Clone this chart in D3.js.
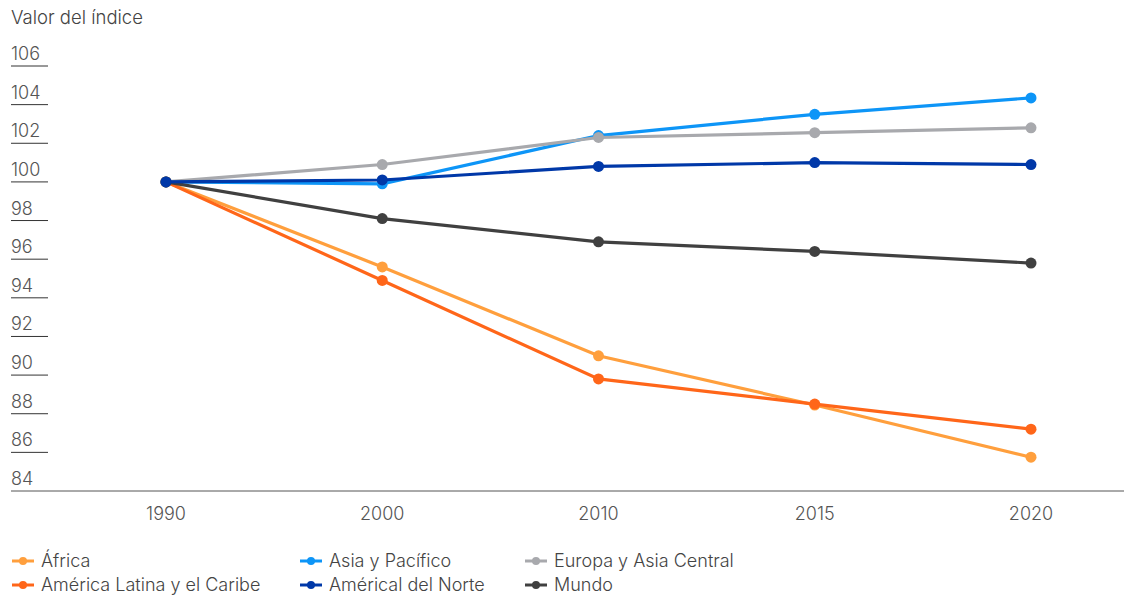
<!DOCTYPE html>
<html>
<head>
<meta charset="utf-8">
<title>Valor del índice</title>
<script src="https://cdn.jsdelivr.net/npm/d3@7"></script>
<style>
  body { margin: 0; background: #fff; }
  text { font-family: Inter, "Noto Sans", sans-serif; font-weight: 300; }
</style>
</head>
<body>
<script>
// data
var years = ["1990", "2000", "2010", "2015", "2020"];
var yTicks = [84, 86, 88, 90, 92, 94, 96, 98, 100, 102, 104, 106];

var africa   = [100, 95.6, 91.0, 88.45, 85.75];
var latam    = [100, 94.9, 89.8, 88.5, 87.2];
var asiaPac  = [100, 99.9, 102.4, 103.5, 104.35];
var europa   = [100, 100.9, 102.3, 102.55, 102.8];
var norte    = [100, 100.1, 100.8, 101.0, 100.9];
var mundo    = [100, 98.1, 96.9, 96.4, 95.8];

var series = [
  {name: "África", values: africa, color: "#ff9f3d"},
  {name: "América Latina y el Caribe", values: latam, color: "#ff6619"},
  {name: "Asia y Pacífico", values: asiaPac, color: "#0d95f7"},
  {name: "Europa y Asia Central", values: europa, color: "#a8a9ad"},
  {name: "Mundo", values: mundo, color: "#404040"},
  {name: "Américal del Norte", values: norte, color: "#0038a8"}
];
var legendOrder = ["África", "Asia y Pacífico", "Europa y Asia Central",
                   "América Latina y el Caribe", "Américal del Norte", "Mundo"];

var W = 1126, H = 595;
var svg = d3.select("body").append("svg").attr("width", W).attr("height", H);

var x = d3.scalePoint().domain(years).range([166, 1031]);
var y = d3.scaleLinear().domain([84, 106]).range([491, 66]);

// title
svg.append("text").attr("x", 11).attr("y", 24)
  .attr("font-size", 18.5).attr("fill", "#444").text("Valor del índice");

// y ticks: short lines with labels above
var yt = svg.append("g").selectAll("g").data(yTicks).enter().append("g");
yt.filter(function(d) { return d !== 84; }).append("line")
  .attr("x1", 11).attr("x2", 48)
  .attr("y1", function(d) { return y(d); }).attr("y2", function(d) { return y(d); })
  .attr("stroke", "#333").attr("stroke-width", 1);
yt.append("text").attr("x", 11).attr("y", function(d) { return y(d) - 6; })
  .attr("font-size", 18).attr("fill", "#555").text(function(d) { return d; });

// x axis
svg.append("line").attr("x1", 11).attr("x2", 1124)
  .attr("y1", y(84)).attr("y2", y(84)).attr("stroke", "#555").attr("stroke-width", 1);
svg.append("g").selectAll("text").data(years).enter().append("text")
  .attr("x", function(d) { return x(d); }).attr("y", 520)
  .attr("text-anchor", "middle").attr("font-size", 18).attr("fill", "#555")
  .text(function(d) { return d; });

var line = d3.line()
  .x(function(d, i) { return x(years[i]); })
  .y(function(d) { return y(d); });

series.forEach(function(s) {
  var g = svg.append("g");
  g.append("path").datum(s.values).attr("d", line)
    .attr("fill", "none").attr("stroke", s.color).attr("stroke-width", 3.2);
  g.selectAll("circle").data(s.values).enter().append("circle")
    .attr("cx", function(d, i) { return x(years[i]); })
    .attr("cy", function(d) { return y(d); })
    .attr("r", 5.5).attr("fill", s.color);
});

// legend
var colX = [12, 300, 525];
var lg = svg.append("g").selectAll("g").data(legendOrder).enter().append("g")
  .attr("transform", function(d, i) {
    return "translate(" + colX[i % 3] + "," + (561 + Math.floor(i / 3) * 24) + ")";
  });
lg.append("line").attr("x1", 0).attr("x2", 22).attr("y1", 0).attr("y2", 0)
  .attr("stroke-width", 3)
  .attr("stroke", function(d) { return series.find(function(s) { return s.name === d; }).color; });
lg.append("circle").attr("cx", 11).attr("cy", 0).attr("r", 4)
  .attr("fill", function(d) { return series.find(function(s) { return s.name === d; }).color; });
lg.append("text").attr("x", 29).attr("y", 6).attr("font-size", 18).attr("fill", "#444")
  .text(function(d) { return d; });
</script>
</body>
</html>
